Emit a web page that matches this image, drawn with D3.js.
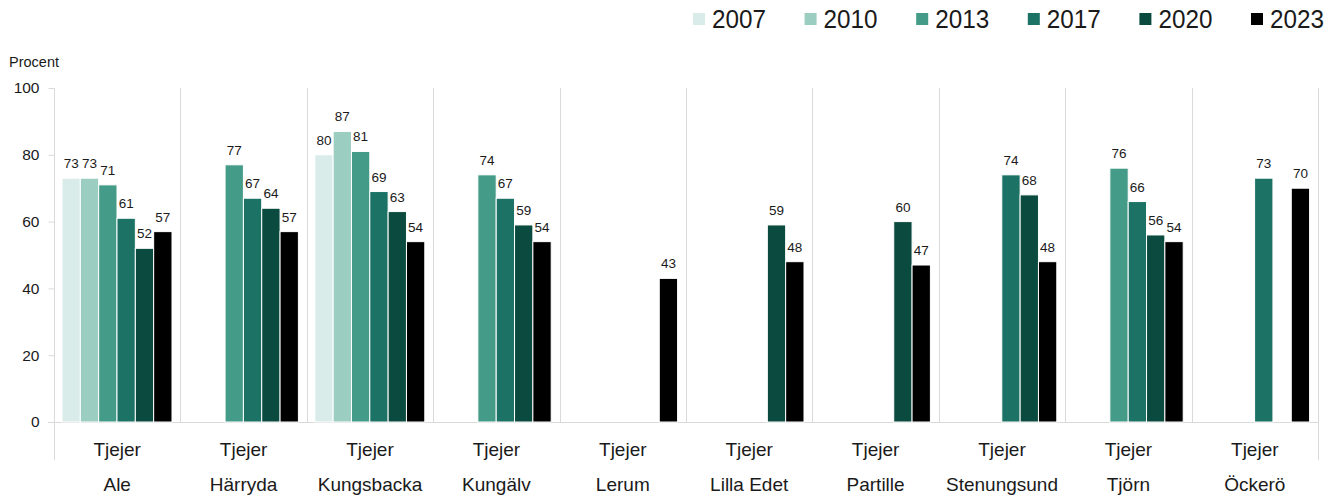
<!DOCTYPE html>
<html>
<head>
<meta charset="utf-8">
<script src="https://cdn.jsdelivr.net/npm/d3@7"></script>
<style>
  html, body { margin: 0; padding: 0; background: #fff; }
  svg { display: block; }
  text { font-family: "Liberation Sans", Arial, sans-serif; fill: #1a1a1a; }
</style>
</head>
<body>
<svg id="chart" width="1334" height="498"></svg>
<script>
const municipalities = ["Ale", "Härryda", "Kungsbacka", "Kungälv", "Lerum", "Lilla Edet", "Partille", "Stenungsund", "Tjörn", "Öckerö"];
const subLabel = "Tjejer";
const years = ["2007", "2010", "2013", "2017", "2020", "2023"];
const colors = ["#daecea", "#9ccdc1", "#449b87", "#1b7265", "#0b4a3e", "#000000"];
// values per year, aligned with municipalities (null = no data)
const v2007 = [73, null, 80, null, null, null, null, null, null, null];
const v2010 = [73, null, 87, null, null, null, null, null, null, null];
const v2013 = [71, 77, 81, 74, null, null, null, null, 76, null];
const v2017 = [61, 67, 69, 67, null, null, null, 74, 66, 73];
const v2020 = [52, 64, 63, 59, null, 59, 60, 68, 56, null];
const v2023 = [57, 57, 54, 54, 43, 48, 47, 48, 54, 70];
const yTicks = [0, 20, 40, 60, 80, 100];
const yLabel = "Procent";

const seriesValues = [v2007, v2010, v2013, v2017, v2020, v2023];

const svg = d3.select("#chart");
const pLeft = 54, pRight = 1318, pTop = 88, pBottom = 422;

const x0 = d3.scaleBand().domain(municipalities).range([pLeft, pRight]).padding(0);
const groupW = x0.bandwidth();
const x1 = d3.scaleBand().domain(years).range([groupW * 8 / 126.4, groupW * 118 / 126.4]).padding(0);
const y = d3.scaleLinear().domain([0, 100]).range([pBottom, pTop]);
const color = d3.scaleOrdinal().domain(years).range(colors);

const grid = "#d9d9d9";

// group separators (inside plot)
svg.append("g").selectAll("line")
  .data(municipalities.slice(1))
  .join("line")
  .attr("x1", d => Math.round(x0(d)) + 0.5).attr("x2", d => Math.round(x0(d)) + 0.5)
  .attr("y1", pTop).attr("y2", pBottom)
  .attr("stroke", grid).attr("stroke-width", 1);

// outer vertical lines extending below
[pLeft, pRight].forEach(xx => {
  svg.append("line").attr("x1", xx + 0.5).attr("x2", xx + 0.5)
    .attr("y1", pTop).attr("y2", 460).attr("stroke", grid).attr("stroke-width", 1);
});

// y axis
const yAxis = d3.axisLeft(y).tickValues(yTicks).tickSize(6).tickPadding(9);
const gy = svg.append("g").attr("transform", `translate(${pLeft + 0.5},0)`).call(yAxis);
gy.select(".domain").remove();
gy.selectAll(".tick line").attr("stroke", grid);
gy.selectAll(".tick text").attr("font-size", 15.5).attr("fill", "#1a1a1a")
  .style("font-family", "'Liberation Sans', Arial, sans-serif");

// baseline
svg.append("line").attr("x1", pLeft - 6).attr("x2", pRight + 0.5)
  .attr("y1", pBottom + 0.5).attr("y2", pBottom + 0.5)
  .attr("stroke", grid).attr("stroke-width", 1);

// bars
const data = [];
municipalities.forEach((m, i) => {
  years.forEach((yr, j) => {
    const v = seriesValues[j][i];
    if (v != null) data.push({ m, yr, v });
  });
});

const gBars = svg.append("g");
gBars.selectAll("rect")
  .data(data)
  .join("rect")
  .attr("x", d => x0(d.m) + x1(d.yr))
  .attr("y", d => y(d.v))
  .attr("width", x1.bandwidth())
  .attr("height", d => pBottom - y(d.v))
  .attr("fill", d => color(d.yr))
  .attr("stroke", "#ffffff")
  .attr("stroke-width", 1);

gBars.selectAll("text")
  .data(data)
  .join("text")
  .attr("x", d => x0(d.m) + x1(d.yr) + x1.bandwidth() / 2)
  .attr("y", d => y(d.v) - 10)
  .attr("text-anchor", "middle")
  .attr("font-size", 13.5)
  .text(d => d.v);

// category labels
const gCat = svg.append("g");
gCat.selectAll("text.sub")
  .data(municipalities)
  .join("text").attr("class", "sub")
  .attr("x", d => x0(d) + groupW / 2)
  .attr("y", 456)
  .attr("text-anchor", "middle")
  .attr("font-size", 19)
  .text(subLabel);
gCat.selectAll("text.main")
  .data(municipalities)
  .join("text").attr("class", "main")
  .attr("x", d => x0(d) + groupW / 2)
  .attr("y", 491)
  .attr("text-anchor", "middle")
  .attr("font-size", 19)
  .text(d => d);

// y label
svg.append("text").attr("x", 9).attr("y", 67).attr("font-size", 14.5).text(yLabel);

// legend
const legend = svg.append("g");
const lx0 = 693, lstep = 111.6;
years.forEach((yr, j) => {
  const g = legend.append("g").attr("transform", `translate(${lx0 + j * lstep},0)`);
  g.append("rect").attr("x", 0).attr("y", 13).attr("width", 12).attr("height", 12)
    .attr("fill", color(yr));
  g.append("text").attr("x", 19).attr("y", 28).attr("font-size", 25)
    .attr("textLength", 54).attr("lengthAdjust", "spacingAndGlyphs")
    .text(yr);
});
</script>
</body>
</html>
